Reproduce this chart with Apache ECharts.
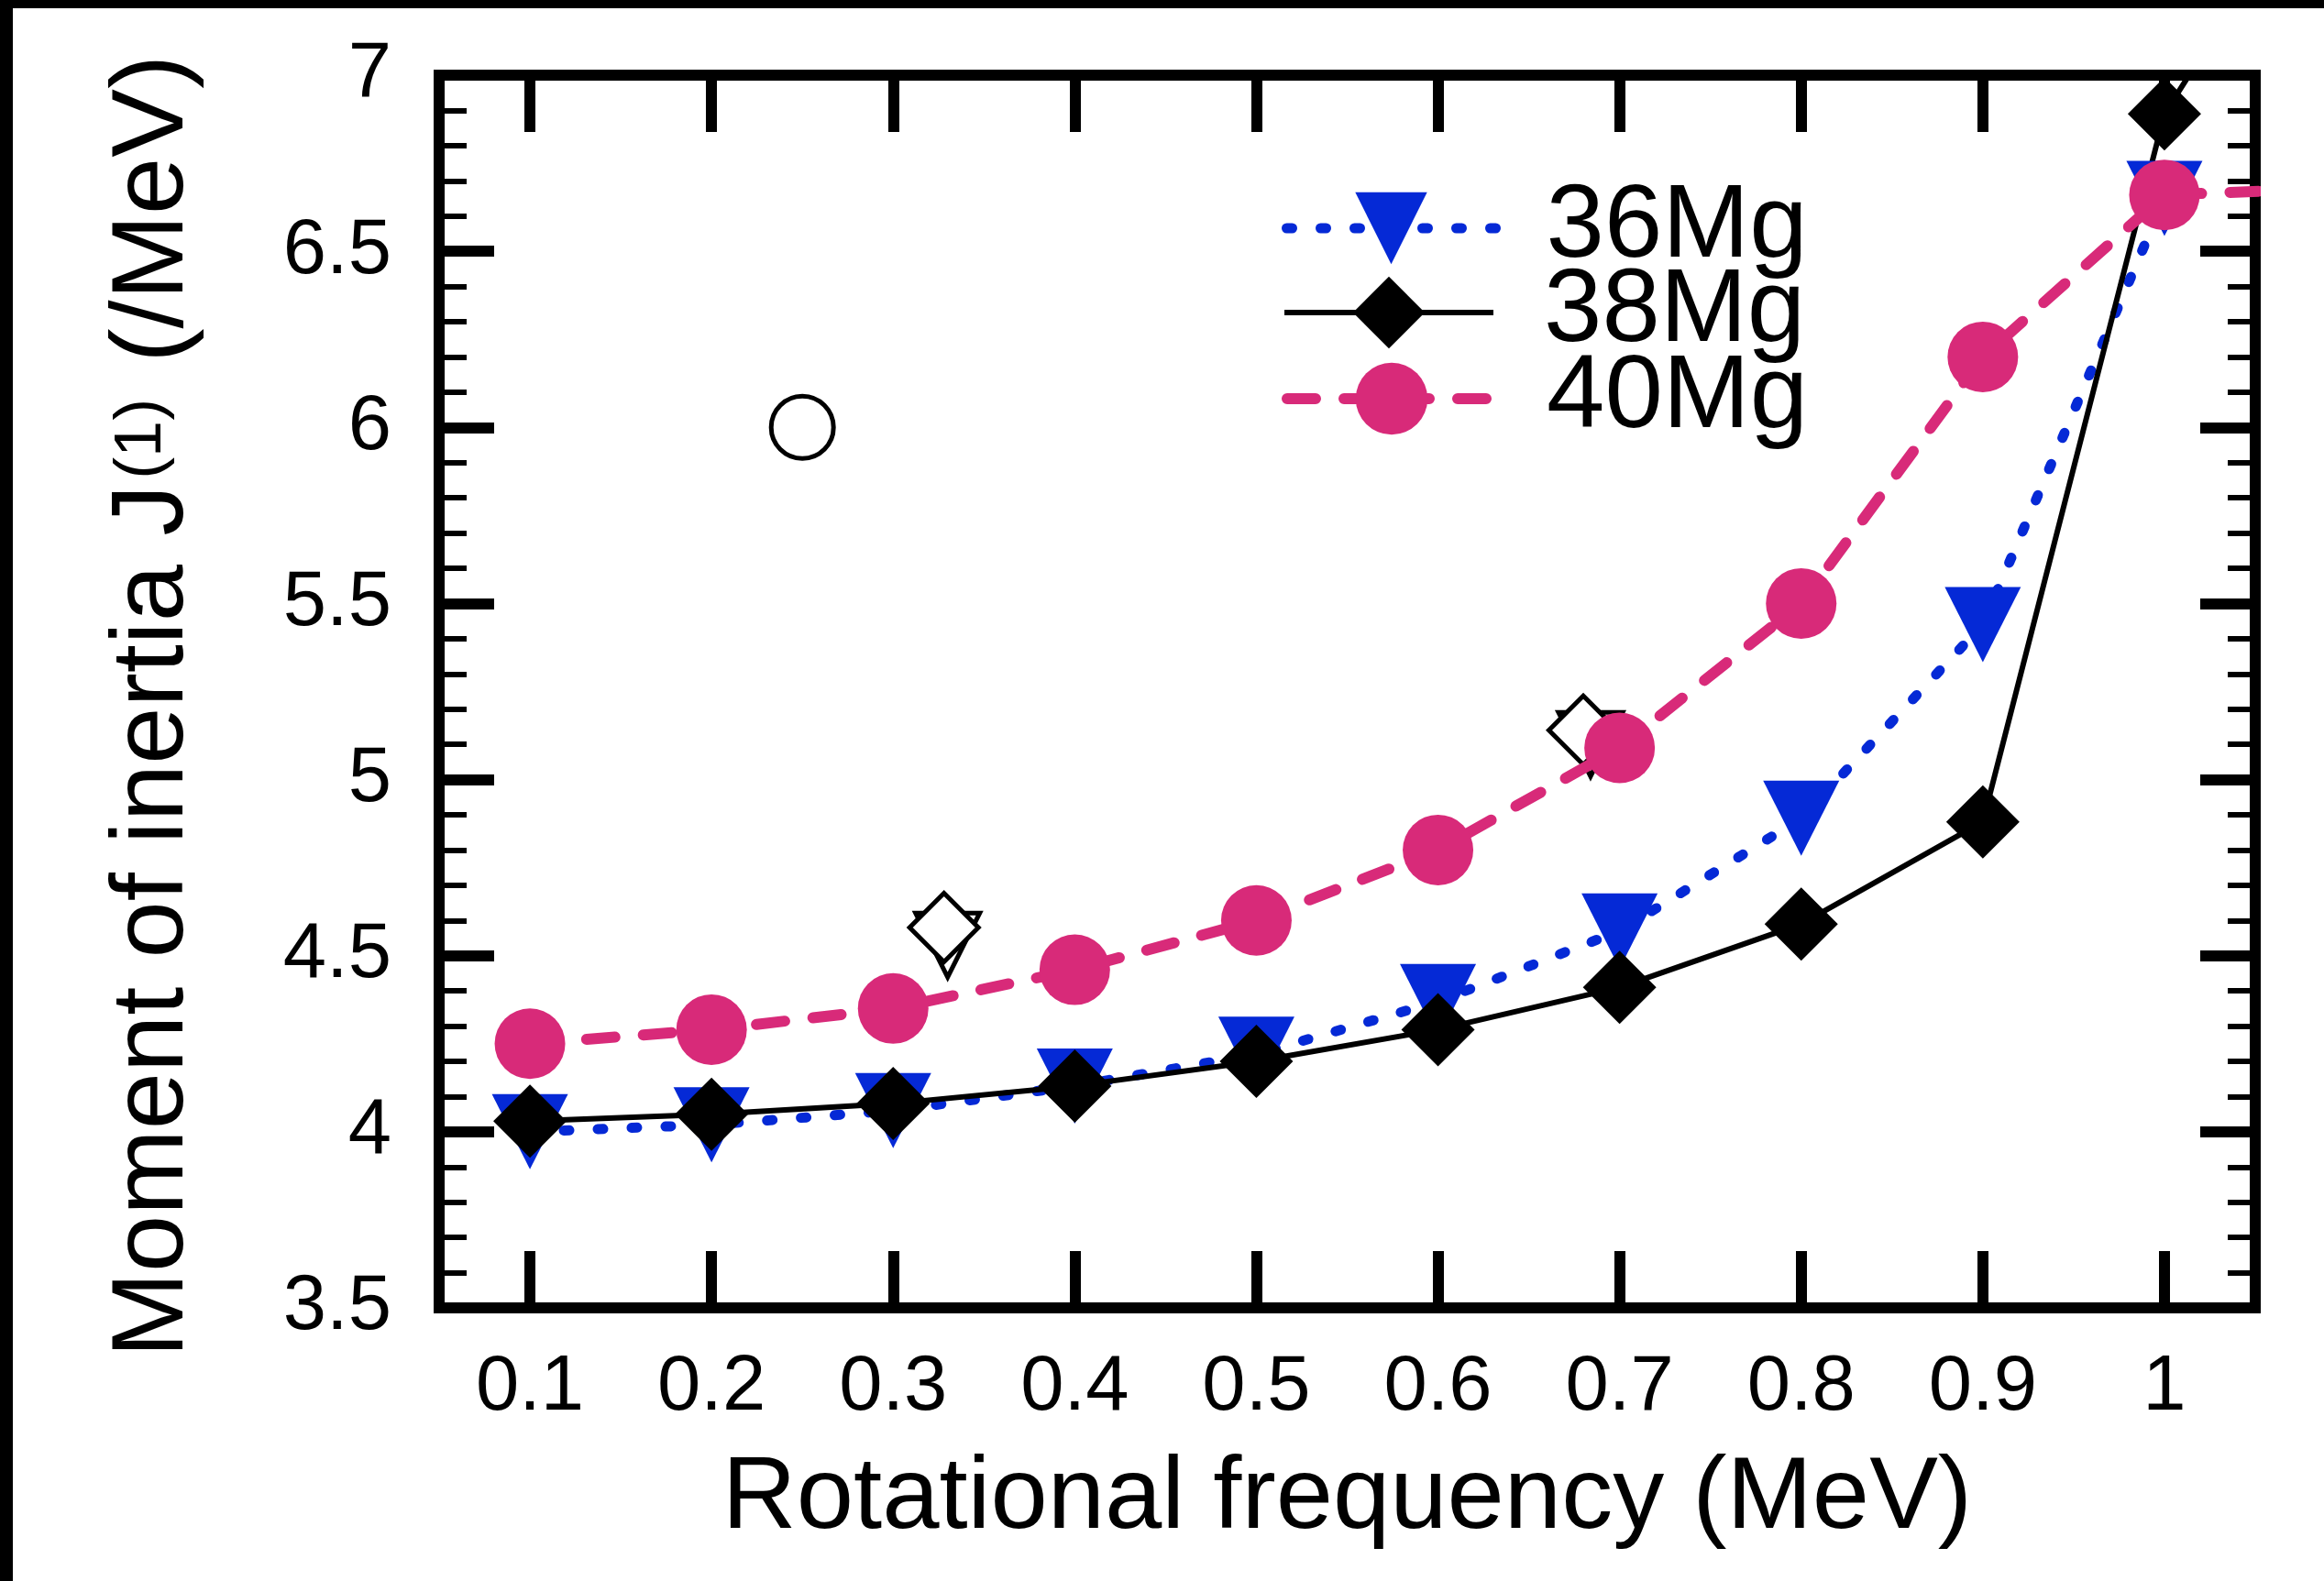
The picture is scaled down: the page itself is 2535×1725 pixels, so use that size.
<!DOCTYPE html>
<html><head><meta charset="utf-8">
<script src="https://cdn.jsdelivr.net/npm/echarts@6/dist/echarts.min.js"></script>
<style>html,body{margin:0;padding:0;background:#fff}#c{width:2535px;height:1725px}</style>
</head><body><div id="c"></div>
<script>
// ---- data ----
const freq    = [0.1, 0.2, 0.3, 0.4, 0.5, 0.6, 0.7, 0.8, 0.9, 1.0];
const freqExt = [0.1, 0.2, 0.3, 0.4, 0.5, 0.6, 0.7, 0.8, 0.9, 1.0, 1.1];
const mg36 = [4.00, 4.02, 4.06, 4.13, 4.22, 4.37, 4.57, 4.89, 5.44, 6.65];
const mg38 = [4.03, 4.05, 4.08, 4.13, 4.20, 4.29, 4.41, 4.59, 4.88, 6.89, 7.70];
const mg40 = [4.25, 4.29, 4.35, 4.46, 4.60, 4.80, 5.09, 5.50, 6.20, 6.66, 6.68];
const exp36Freq = [0.330, 0.684];
const exp36     = [4.53, 5.10];
const exp38Freq = [0.328, 0.680];
const exp38     = [4.58, 5.14];
const exp40Freq = [0.25];
const exp40     = [6.00];
const xTicks = [0.1, 0.2, 0.3, 0.4, 0.5, 0.6, 0.7, 0.8, 0.9, 1.0];
const names = ['36Mg', '38Mg', '40Mg'];
const xTitle = 'Rotational frequency (MeV)';

// ---- styles ----
const F = "'Liberation Sans', Arial, Helvetica, sans-serif";
const BLUE = '#0529d6';
const PINK = '#d82a79';
const TRI = 'path://M0,0L10,0L5,10Z';
const pairs = (xs, ys) => ys.map((y, i) => [xs[i], y]);

const frameLine = { show: true, onZero: false, lineStyle: { color: '#000', width: 12, cap: 'square' } };
const xTick = { show: true, inside: true, length: 62, lineStyle: { color: '#000', width: 12 }, customValues: xTicks };
const yTick = { show: true, inside: true, length: 60, lineStyle: { color: '#000', width: 12 } };
const yMinor = { show: true, splitNumber: 5, length: 30, lineStyle: { color: '#000', width: 6 } };
const openStyle = { color: '#fff', borderColor: '#000', borderWidth: 5, opacity: 1 };

function legendFor(name, top) {
  return {
    data: [name], left: 1398, top: top, orient: 'vertical', padding: 0,
    itemWidth: 228, itemHeight: 98, selectedMode: false,
    lineStyle: { width: 'inherit', type: 'inherit', cap: 'inherit', color: 'inherit' },
    textStyle: { fontSize: 114, fontFamily: F, color: '#000', padding: [0, 0, 0, 50], lineHeight: 98 }
  };
}

const option = {
  animation: false,
  backgroundColor: '#fff',
  graphic: [
    { type: 'rect', shape: { x: 0, y: 0, width: 2535, height: 9 }, style: { fill: '#000' } },
    { type: 'rect', shape: { x: 0, y: 0, width: 14, height: 1725 }, style: { fill: '#000' } }
  ],
  grid: { left: 479, top: 82, width: 1981, height: 1345, containLabel: false, outerBoundsMode: 'none' },
  legend: [legendFor(names[0], 192), legendFor(names[1], 284), legendFor(names[2], 378)],
  xAxis: [
    { type: 'value', min: 0.05, max: 1.05, position: 'bottom',
      axisLine: frameLine, axisTick: xTick, splitLine: { show: false },
      axisLabel: { customValues: xTicks, margin: 45, fontSize: 85, color: '#000', fontFamily: F },
      name: xTitle, nameLocation: 'middle', nameGap: 153,
      nameTextStyle: { fontSize: 112, color: '#000', fontFamily: F } },
    { type: 'value', min: 0.05, max: 1.05, position: 'top',
      axisLine: frameLine, axisTick: xTick, splitLine: { show: false },
      axisLabel: { show: false } }
  ],
  yAxis: [
    { type: 'value', min: 3.5, max: 7, interval: 0.5, position: 'left',
      axisLine: frameLine, axisTick: yTick, minorTick: yMinor, splitLine: { show: false }, minorSplitLine: { show: false },
      axisLabel: { margin: 52, fontSize: 85, color: '#000', fontFamily: F },
      name: '{m|Moment of inertia J}{s|(1)}{m| (/MeV)}', nameLocation: 'middle', nameGap: 255, nameRotate: 90,
      nameTextStyle: { fontSize: 112, color: '#000', fontFamily: F, padding: [0, 32, 0, 0],
        rich: { m: { fontSize: 112, lineHeight: 112, color: '#000', fontFamily: F, verticalAlign: 'middle' },
                s: { fontSize: 72, lineHeight: 72, color: '#000', fontFamily: F, verticalAlign: 'middle',
                     padding: [0, 8, 26, 6] } } } },
    { type: 'value', min: 3.5, max: 7, interval: 0.5, position: 'right',
      axisLine: frameLine, axisTick: yTick, minorTick: yMinor, splitLine: { show: false },
      axisLabel: { show: false } }
  ],
  series: [
    { name: 'exp36', type: 'scatter', data: pairs(exp36Freq, exp36), symbol: TRI, symbolSize: [70, 70],
      itemStyle: openStyle, silent: true },
    { name: 'exp38', type: 'scatter', data: pairs(exp38Freq, exp38), symbol: 'diamond', symbolSize: 75,
      itemStyle: openStyle, silent: true },
    { name: 'exp40', type: 'scatter', data: pairs(exp40Freq, exp40), symbol: 'circle', symbolSize: 68,
      itemStyle: openStyle, silent: true },
    { name: names[0], type: 'line', data: pairs(freq, mg36), symbol: TRI, symbolSize: [83, 82], showAllSymbol: true,
      itemStyle: { color: BLUE }, lineStyle: { color: BLUE, width: 11, type: [6, 31], cap: 'round' }, clip: true, silent: true },
    { name: names[1], type: 'line', data: pairs(freqExt, mg38), symbol: 'diamond', symbolSize: 80, showAllSymbol: true,
      itemStyle: { color: '#000' }, lineStyle: { color: '#000', width: 6 }, clip: true, silent: true },
    { name: names[2], type: 'line', data: pairs(freqExt, mg40), symbol: 'circle', symbolSize: 77, showAllSymbol: true,
      itemStyle: { color: PINK }, lineStyle: { color: PINK, width: 12, type: [31, 31], cap: 'round' }, clip: true, silent: true }
  ]
};
const chart = echarts.init(document.getElementById('c'), null, { renderer: 'canvas' });
chart.setOption(option);
</script></body></html>
